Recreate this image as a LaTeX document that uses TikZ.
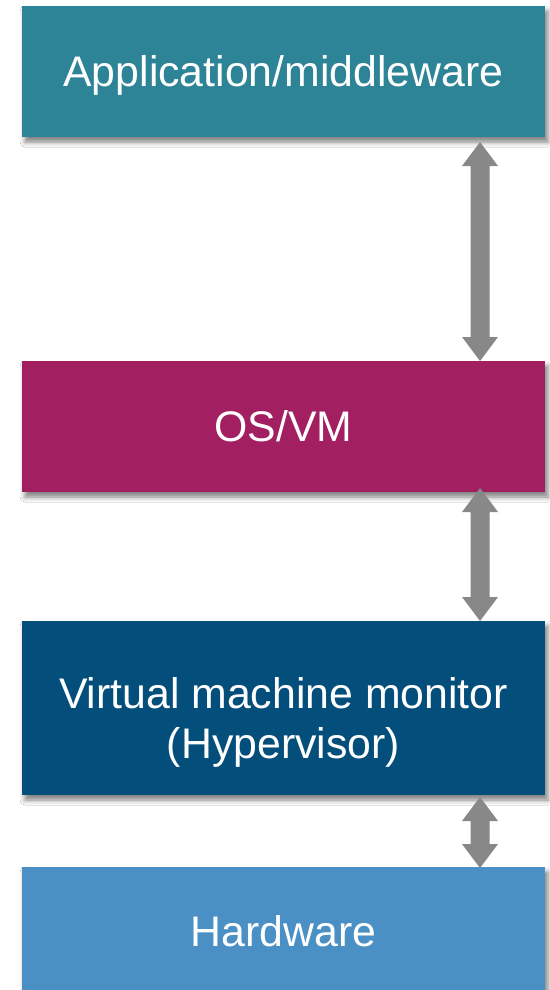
\documentclass[tikz,border=0pt]{standalone}
\usepackage{fontspec}
\setmainfont{Liberation Sans}
\usetikzlibrary{calc,shadows.blur}

\definecolor{layerteal}{HTML}{2E8497}
\definecolor{layermagenta}{HTML}{A21F62}
\definecolor{layernavy}{HTML}{044E7C}
\definecolor{layersky}{HTML}{4A90C4}
\definecolor{linkgray}{HTML}{888888}

% fat double-headed arrow from #1 (upper tip) to #2 (lower tip)
\newcommand\lnkarrow[2]{%
  \fill[linkgray] let \p1=(#1), \p2=(#2) in
    (\x1,\y1) -- (\x1+18pt,\y1-24pt) -- (\x1+9.5pt,\y1-24pt)
    -- (\x2+9.5pt,\y2+24pt) -- (\x2+18pt,\y2+24pt) -- (\x2,\y2)
    -- (\x2-18pt,\y2+24pt) -- (\x2-9.5pt,\y2+24pt)
    -- (\x1-9.5pt,\y1-24pt) -- (\x1-18pt,\y1-24pt) -- cycle;}

\begin{document}
\begin{tikzpicture}[x=1pt,y=-1pt,
  layer/.style={rectangle, inner sep=0pt, outer sep=0pt,
    minimum width=523pt, text=white, align=center,
    font=\fontsize{42.8}{50}\selectfont,
    blur shadow={shadow xshift=3pt, shadow yshift=-5pt,
      shadow blur radius=5pt, shadow opacity=50}},
  oneline/.style={text height=30.6pt, text depth=0pt},
  twoline/.style={text height=48pt, text depth=48pt}]

  \fill[white] (0,0) rectangle (549,990);
  \useasboundingbox (0,0) rectangle (549,990);

  % layer stack
  \node[layer, oneline, fill=layerteal, minimum height=131pt]
    (app) at (283.5,71.5) {Application/middleware};
  \node[layer, oneline, fill=layermagenta, minimum height=131pt]
    (os) at (283.5,426.5) {OS/VM};
  \node[layer, twoline, fill=layernavy, minimum height=174pt]
    (vmm) at (283.5,708)
    {\begin{tabular}[t]{@{}c@{}}Virtual machine monitor\\(Hypervisor)\end{tabular}};
  \node[layer, oneline, fill=layersky, minimum height=128pt]
    (hw) at (283.5,931) {Hardware};

  % arrow axis
  \coordinate (ax) at (480,0);

  \coordinate (l1a) at ($(app.south -| ax)+(0,5)$);
  \coordinate (l1b) at (os.north -| ax);
  \coordinate (l2a) at ($(os.south -| ax)+(0,-4)$);
  \coordinate (l2b) at (vmm.north -| ax);
  \coordinate (l3a) at ($(vmm.south -| ax)+(0,2)$);
  \coordinate (l3b) at ($(hw.north -| ax)+(0,1)$);

  \lnkarrow{l1a}{l1b}
  \lnkarrow{l2a}{l2b}
  \lnkarrow{l3a}{l3b}
\end{tikzpicture}
\end{document}
